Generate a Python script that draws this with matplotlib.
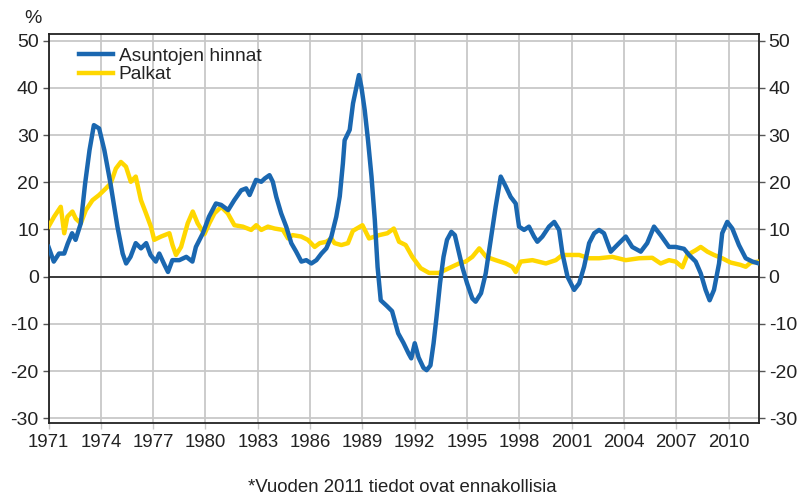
import matplotlib
matplotlib.use("Agg")
import matplotlib.pyplot as plt

plt.rcParams['font.family'] = ['Liberation Sans', 'DejaVu Sans']
plt.rcParams['axes.unicode_minus'] = False

# Asuntojen hinnat (vuosimuutos, %)
hinnat_v = [1971.0, 1971.3, 1971.6, 1971.9, 1972.1, 1972.35, 1972.55, 1972.85, 1973.1, 1973.35,
            1973.6, 1973.9, 1974.2, 1974.55, 1974.95, 1975.25, 1975.45, 1975.7, 1976.0, 1976.3,
            1976.6, 1976.85, 1977.15, 1977.35, 1977.65, 1977.85, 1978.1, 1978.5, 1978.9, 1979.25,
            1979.45, 1979.85, 1980.2, 1980.6, 1980.9, 1981.3, 1981.65, 1982.05, 1982.33, 1982.53,
            1982.9, 1983.2, 1983.4, 1983.67, 1983.86, 1984.06, 1984.34, 1984.63, 1984.92, 1985.2,
            1985.5, 1985.78, 1986.07, 1986.36, 1986.65, 1986.93, 1987.22, 1987.5, 1987.7, 1987.88,
            1987.98, 1988.27, 1988.46, 1988.66, 1988.8, 1988.94, 1989.13, 1989.32, 1989.52, 1989.71,
            1989.87, 1990.05, 1990.4, 1990.7, 1990.9, 1991.05, 1991.35, 1991.65, 1991.8, 1992.0,
            1992.22, 1992.5, 1992.68, 1992.9, 1993.08, 1993.25, 1993.45, 1993.65, 1993.85, 1994.1,
            1994.3, 1994.5, 1994.73, 1995.0, 1995.3, 1995.49, 1995.8, 1996.07, 1996.36, 1996.64,
            1996.93, 1997.22, 1997.5, 1997.79, 1997.98, 1998.27, 1998.55, 1998.84, 1999.03, 1999.32,
            1999.7, 2000.0, 2000.28, 2000.47, 2000.76, 2001.14, 2001.43, 2001.71, 2002.0, 2002.29,
            2002.57, 2002.85, 2003.24, 2003.61, 2004.1, 2004.47, 2004.96, 2005.33, 2005.72, 2006.1,
            2006.58, 2006.96, 2007.44, 2007.73, 2008.11, 2008.4, 2008.68, 2008.91, 2009.16, 2009.45,
            2009.63, 2009.92, 2010.21, 2010.59, 2010.98, 2011.36, 2011.74]
hinnat = [6.3, 3.2, 4.9, 4.9, 7.0, 9.2, 7.8, 11.3, 19.8, 26.8,
          32.1, 31.4, 26.8, 19.8, 10.6, 4.9, 2.8, 4.2, 7.1, 6.0,
          7.1, 4.6, 3.2, 4.9, 2.5, 1.0, 3.5, 3.5, 4.2, 3.2,
          6.3, 9.2, 12.7, 15.5, 15.2, 14.1, 16.2, 18.3, 18.7, 17.3,
          20.5, 20.1, 20.8, 21.5, 20.1, 16.9, 13.4, 10.6, 7.1, 5.3,
          3.2, 3.5, 2.8, 3.5, 4.9, 6.0, 8.5, 12.7, 17.0, 24.0,
          28.9, 31.1, 36.7, 40.2, 42.7, 40.2, 35.3, 28.9, 21.2, 12.0,
          2.0, -5.0, -6.2, -7.3, -10.0, -12.0, -14.0, -16.3, -17.3, -14.1,
          -17.1, -19.3, -19.8, -18.8, -14.1, -8.5, -1.4, 4.2, 7.8, 9.5,
          8.8, 5.6, 2.0, -1.4, -4.6, -5.3, -3.5, 0.7, 7.8, 14.8,
          21.2, 19.1, 16.9, 15.5, 10.6, 9.9, 10.6, 8.5, 7.4, 8.5,
          10.6, 11.6, 9.9, 4.9, 0.0, -2.8, -1.4, 2.1, 7.1, 9.2,
          9.9, 9.2, 5.3, 6.7, 8.5, 6.3, 5.3, 7.1, 10.6, 8.8,
          6.3, 6.3, 5.9, 4.6, 3.2, 0.7, -2.8, -5.0, -2.8, 2.8,
          9.2, 11.6, 10.2, 6.7, 3.9, 3.2, 2.8]

# Palkat (vuosimuutos, %)
palkat_v = [1971.0, 1971.32, 1971.7, 1971.9, 1972.08, 1972.37, 1972.56, 1972.85, 1973.14, 1973.52,
            1973.9, 1974.29, 1974.57, 1974.86, 1975.15, 1975.44, 1975.72, 1976.0, 1976.3, 1976.59,
            1976.87, 1977.06, 1977.45, 1977.93, 1978.11, 1978.31, 1978.6, 1978.98, 1979.27, 1979.55,
            1979.94, 1980.22, 1980.51, 1980.9, 1981.28, 1981.66, 1982.14, 1982.62, 1982.91, 1983.2,
            1983.58, 1983.96, 1984.44, 1984.73, 1985.0, 1985.49, 1985.87, 1986.26, 1986.55, 1986.93,
            1987.22, 1987.4, 1987.79, 1988.17, 1988.45, 1989.0, 1989.38, 1989.96, 1990.43, 1990.8,
            1991.1, 1991.48, 1991.86, 1992.34, 1992.82, 1993.39, 1993.96, 1994.54, 1994.92, 1995.3,
            1995.7, 1996.1, 1996.64, 1997.22, 1997.6, 1997.79, 1998.08, 1998.75, 1999.52, 2000.09,
            2000.47, 2001.43, 2002.0, 2002.57, 2003.33, 2004.1, 2004.86, 2005.62, 2006.1, 2006.58,
            2006.96, 2007.35, 2007.63, 2008.11, 2008.4, 2008.78, 2009.16, 2009.63, 2010.11, 2010.68,
            2010.98, 2011.27, 2011.74]
palkat = [10.6, 12.7, 14.8, 9.2, 12.7, 13.8, 12.3, 11.3, 14.1, 16.2,
          17.3, 18.7, 19.8, 22.9, 24.3, 23.3, 20.1, 21.2, 16.2, 13.4,
          10.6, 7.8, 8.5, 9.2, 6.7, 4.6, 6.3, 11.3, 13.8, 11.3,
          9.0, 11.3, 13.4, 14.8, 13.4, 10.9, 10.6, 9.9, 10.9, 9.9,
          10.6, 10.2, 9.9, 8.1, 8.8, 8.5, 7.8, 6.3, 7.1, 7.4,
          8.1, 7.1, 6.7, 7.1, 9.7, 10.9, 8.1, 8.8, 9.2, 10.2,
          7.4, 6.7, 4.2, 1.8, 0.8, 0.8, 1.8, 2.8, 3.2, 4.2,
          6.0, 4.2, 3.5, 2.8, 2.1, 1.0, 3.2, 3.5, 2.8, 3.5,
          4.6, 4.6, 3.9, 3.9, 4.2, 3.5, 3.9, 4.0, 2.8, 3.5,
          3.2, 2.0, 4.6, 5.6, 6.3, 5.3, 4.6, 3.9, 3.0, 2.5,
          2.1, 3.0, 3.2]

x_ticks = list(range(1971, 2011, 3))
y_ticks = list(range(-30, 51, 10))

fig = plt.figure(figsize=(7.97, 4.95), dpi=100)
ax = fig.add_axes([0.0609, 0.1448, 0.8914, 0.7865])

ax.plot(hinnat_v, hinnat, color='#1a67b0', lw=3.2, label='Asuntojen hinnat', zorder=4)
ax.plot(palkat_v, palkat, color='#ffd700', lw=3.2, label='Palkat', zorder=3)
ax.axhline(0, color='#222222', lw=1.2, zorder=2)

ax.set_xlim(1971, 2011.74)
ax.set_ylim(-31.06, 51.4)
ax.set_xticks(x_ticks)
ax.set_yticks(y_ticks)
ax.grid(True, color='#c8c8c8', lw=1.3, zorder=0)
ax.set_axisbelow(True)

for s in ax.spines.values():
    s.set_color('#222222')
    s.set_linewidth(1.3)

ax.tick_params(axis='y', which='both', left=True, right=True, labelleft=True, labelright=True,
               length=4, width=1, color='#555555', labelsize=14, pad=3, labelcolor='#222222')
ax.tick_params(axis='x', length=4, width=1, color='#c8c8c8', labelsize=13.4, pad=4,
               labelcolor='#222222')

fig.text(0.030, 0.962, '%', fontsize=14, color='#222222', ha='left', va='center')

leg = ax.legend(loc='upper left', bbox_to_anchor=(0.027, 0.995), frameon=False, fontsize=13.8,
                handlelength=1.75, handletextpad=0.3, labelspacing=0.05, borderaxespad=0.2)
for t in leg.get_texts():
    t.set_color('#222222')

fig.text(0.505, 0.016, '*Vuoden 2011 tiedot ovat ennakollisia', fontsize=13.4,
         ha='center', va='center', color='#222222')

fig.savefig('out.png', dpi=100)
